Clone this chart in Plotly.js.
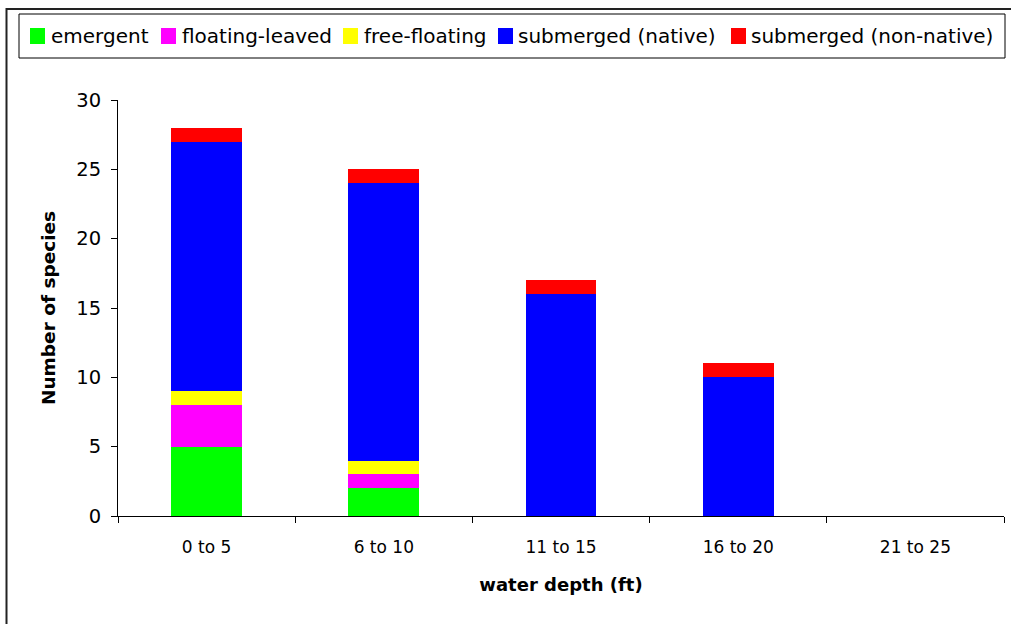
<!DOCTYPE html>
<html><head><meta charset="utf-8">
<script src="https://cdn.plot.ly/plotly-3.0.1.min.js"></script>
<style>html,body{margin:0;padding:0;background:#fff;}#chart{width:1011px;height:624px;}</style>
</head><body><div id="chart"></div>
<script>
const categories = ["0 to 5", "6 to 10", "11 to 15", "16 to 20", "21 to 25"];
const emergent = [5, 2, 0, 0, 0];
const floatingLeaved = [3, 1, 0, 0, 0];
const freeFloating = [1, 1, 0, 0, 0];
const submergedNative = [18, 20, 16, 10, 0];
const submergedNonNative = [1, 1, 1, 1, 0];
const seriesNames = ["emergent", "floating-leaved", "free-floating", "submerged (native)", "submerged (non-native)"];
const seriesColors = ["#00ff00", "#ff00ff", "#ffff00", "#0000ff", "#ff0000"];
const seriesValues = [emergent, floatingLeaved, freeFloating, submergedNative, submergedNonNative];

const FONT = "DejaVu Sans, Verdana, sans-serif";

const traces = seriesValues.map((vals, i) => ({
  type: "bar", x: categories, y: vals, name: seriesNames[i],
  marker: {color: seriesColors[i], line: {width: 0}}, hoverinfo: "none"
}));

const W = 1011, H = 624, L = 118, R = 7, T = 100, B = 108;
const pw = W - L - R, ph = H - T - B;
const px = v => (v - L) / pw;
const py = v => (H - B - v) / ph;

// manual legend (pixel layout positions)
const legSymX = [30, 161, 343, 498, 731];
const legTextX = [49, 180, 362, 516, 749];
const legY = 36;
const shapes = [
  {type: "rect", xref: "paper", yref: "paper", x0: px(6.5), x1: px(1020), y0: py(630), y1: py(9),
   line: {color: "#222", width: 2}, fillcolor: "rgba(0,0,0,0)", layer: "below"},
  {type: "rect", xref: "paper", yref: "paper", x0: px(19), x1: px(1005), y0: py(58), y1: py(14),
   line: {color: "#000", width: 1}, fillcolor: "#fff", layer: "below"}
];
const annotations = [];
seriesNames.forEach((n, i) => {
  shapes.push({type: "rect", xref: "paper", yref: "paper",
    x0: px(legSymX[i]), x1: px(legSymX[i] + 15), y0: py(legY + 8), y1: py(legY - 8),
    line: {width: 0}, fillcolor: seriesColors[i]});
  annotations.push({xref: "paper", yref: "paper", x: px(legTextX[i]), y: py(legY),
    xanchor: "left", yanchor: "middle", showarrow: false, text: n,
    font: {family: FONT, size: 20, color: "#000"}});
});

const layout = {
  width: W, height: H,
  margin: {l: L, r: R, t: T, b: B},
  barmode: "stack", bargap: 0.6,
  paper_bgcolor: "#fff", plot_bgcolor: "#fff",
  font: {family: FONT, color: "#000"},
  showlegend: false,
  xaxis: {
    type: "category", showline: true, linecolor: "#000", linewidth: 1,
    ticks: "outside", tickson: "boundaries", ticklen: 6, tickcolor: "#000",
    tickfont: {size: 17}, ticklabelstandoff: 16, showgrid: false, zeroline: false,
    title: {text: "<b>water depth (ft)</b>", font: {size: 18}, standoff: 21}
  },
  yaxis: {
    range: [0, 30], dtick: 5, showline: true, linecolor: "#000", linewidth: 1,
    ticks: "outside", ticklen: 6, tickcolor: "#000", tickfont: {size: 19.5},
    ticklabelstandoff: 6, showgrid: false, zeroline: false,
    title: {text: "<b>Number of species</b>", font: {size: 18.5}, standoff: 15}
  },
  shapes: shapes,
  annotations: annotations
};

Plotly.newPlot("chart", traces, layout, {staticPlot: true});
</script></body></html>
